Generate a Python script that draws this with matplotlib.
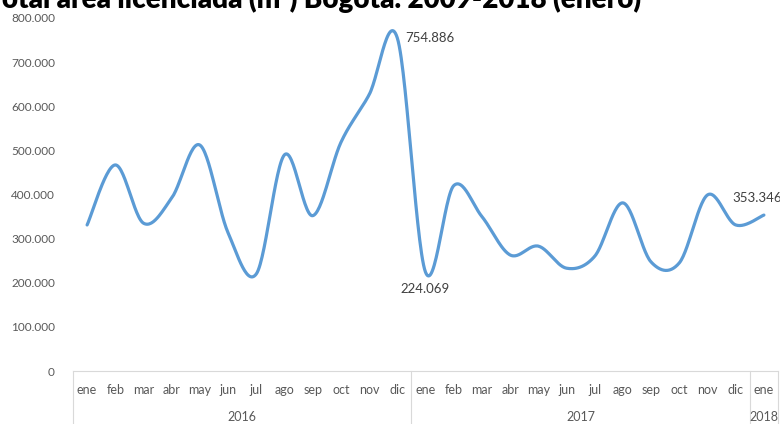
import numpy as np
import matplotlib
matplotlib.use('Agg')
from matplotlib import pyplot as plt
from matplotlib.ticker import FuncFormatter

meses = ['ene', 'feb', 'mar', 'abr', 'may', 'jun', 'jul', 'ago', 'sep', 'oct', 'nov', 'dic']
month_labels = meses + meses + ['ene']
years = ['2016', '2017', '2018']
year_sizes = [12, 12, 1]
area = [331000, 467000, 335000, 392000, 512000, 313000, 220000, 490000, 352000, 518000,
        626000, 754886, 224069, 420000, 350000, 263000, 283000, 233000, 260000, 381000,
        247000, 245000, 399000, 331000, 353346]
labeled = {11: ('754.886', 'right'), 12: ('224.069', 'below'), 24: ('353.346', 'above')}

plt.rcParams['font.family'] = ['Lato', 'DejaVu Sans']

def smooth(xs, ys, n=30):
    # bezier curves through the points, like excel's smoothed line
    p = np.column_stack([xs, ys]).astype(float)
    p = np.vstack([p[0], p, p[-1]])
    out = []
    t = np.linspace(0, 1, n)[:, None]
    for i in range(1, len(p) - 2):
        a, b = p[i], p[i + 1]
        c1 = a + (p[i + 1] - p[i - 1]) / 6
        c2 = b - (p[i + 2] - p[i]) / 6
        seg = (1-t)**3*a + 3*(1-t)**2*t*c1 + 3*(1-t)*t**2*c2 + t**3*b
        out.append(seg if i == 1 else seg[1:])
    out = np.vstack(out)
    return out[:, 0], out[:, 1]

fig = plt.figure(figsize=(7.8, 4.24), dpi=100)
W, H = 780, 424
ax = fig.add_axes([73/W, 1 - 371/H, (778-73)/W, (371-18)/H])

x = np.arange(len(area))
sx, sy = smooth(x, area)
ax.plot(sx, sy, color='#5B9BD5', lw=2.3, solid_capstyle='round')

ax.set_xlim(-0.5, len(area) - 0.5)
ax.set_ylim(0, 800000)
ax.set_yticks(np.arange(0, 800001, 100000))
ax.yaxis.set_major_formatter(FuncFormatter(lambda v, p: '0' if v == 0 else f'{int(v):,}'.replace(',', '.')))
ax.tick_params(axis='y', length=0, pad=13, labelsize=8.5, labelcolor='#595959')
ax.set_xticks([])
for s in ['top', 'right', 'left']:
    ax.spines[s].set_visible(False)
ax.spines['bottom'].set_color('#d9d9d9')

tr = ax.get_xaxis_transform()
for i, m in enumerate(month_labels):
    ax.text(i, -0.054, m, transform=tr, ha='center', va='center', fontsize=9, color='#595959', clip_on=False)
start = -0.5
for yr, n in zip(years, year_sizes):
    ax.text(start + n / 2, -0.131, yr, transform=tr, ha='center', va='center', fontsize=9, color='#595959', clip_on=False)
    ax.plot([start, start], [0, -0.16], transform=tr, color='#d9d9d9', lw=0.8, clip_on=False)
    start += n
ax.plot([start, start], [0, -0.16], transform=tr, color='#d9d9d9', lw=0.8, clip_on=False)

for i, (txt, pos) in labeled.items():
    if pos == 'right':
        ax.annotate(txt, (i, area[i]), xytext=(6, 0), textcoords='offset points', ha='left', va='center', fontsize=9.5, color='#404040')
    elif pos == 'below':
        ax.annotate(txt, (i, area[i]), xytext=(0, -8), textcoords='offset points', ha='center', va='top', fontsize=9.5, color='#404040')
    else:
        ax.annotate(txt, (i, area[i]), xytext=(-5, 8), textcoords='offset points', ha='center', va='bottom', fontsize=9.5, color='#404040')

fig.text(313/W, 1 - 8/H, 'Total área licenciada (m²) Bogotá. 2009-2018 (enero)', ha='center', va='baseline',
         fontsize=20, fontweight='heavy', color='#000000')

fig.savefig('out.png', dpi=100)
